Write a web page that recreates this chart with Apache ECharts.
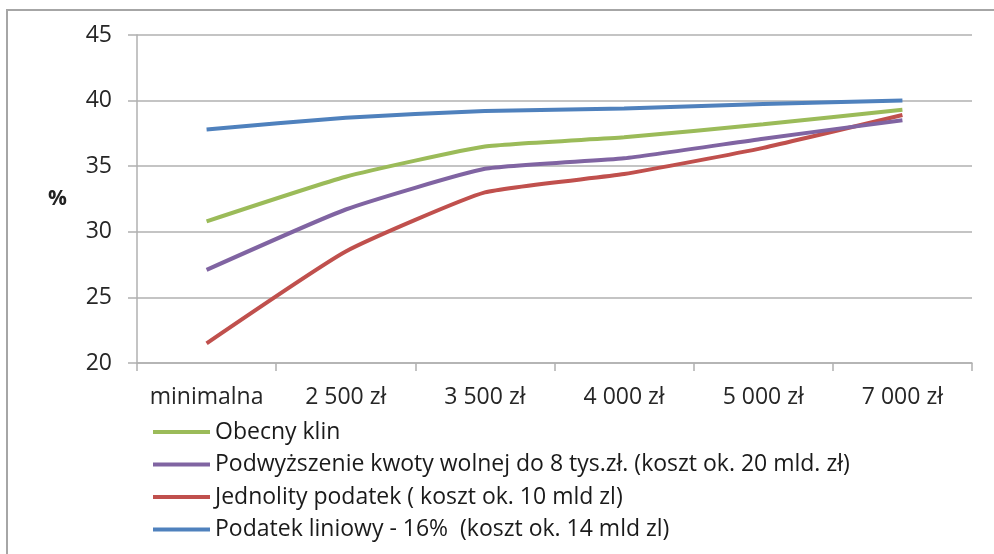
<!DOCTYPE html>
<html>
<head>
<meta charset="utf-8">
<script src="https://cdn.jsdelivr.net/npm/echarts@6/dist/echarts.min.js"></script>
<style>
html,body{margin:0;padding:0;background:#fff;}
#chart{width:994px;height:554px;}
</style>
</head>
<body>
<div id="chart"></div>
<script>
var categories = ['minimalna', '2 500 zł', '3 500 zł', '4 000 zł', '5 000 zł', '7 000 zł'];
var yTicks = [20, 25, 30, 35, 40, 45];
var obecnyKlin = [30.8, 34.2, 36.5, 37.2, 38.2, 39.3];
var kwotaWolna = [27.1, 31.7, 34.8, 35.6, 37.1, 38.5];
var jednolity = [21.5, 28.5, 33.0, 34.4, 36.4, 38.9];
var liniowy = [37.8, 38.7, 39.2, 39.4, 39.75, 40.0];
var seriesNames = [
  'Obecny klin',
  'Podwyższenie kwoty wolnej do 8 tys.zł. (koszt ok. 20 mld. zł)',
  'Jednolity podatek ( koszt ok. 10 mld zl)',
  'Podatek liniowy - 16%  (koszt ok. 14 mld zl)'
];
var colors = ['#9bbb59', '#8064a2', '#c0504d', '#4f81bd'];
var seriesData = [obecnyKlin, kwotaWolna, jednolity, liniowy];

var font = '"Open Sans", "Noto Sans", sans-serif';
var chart = echarts.init(document.getElementById('chart'), null, {renderer: 'canvas'});
chart.setOption({
  animation: false,
  backgroundColor: '#fff',
  textStyle: {fontFamily: font},
  grid: {left: 137, right: 22, top: 35, bottom: 191, containLabel: false},
  graphic: [{
    type: 'polyline',
    shape: {points: [[7, 554], [7, 10], [994, 10]]},
    style: {stroke: '#a6a6a6', lineWidth: 2, fill: null}
  }],
  xAxis: {
    type: 'category',
    data: categories,
    boundaryGap: true,
    axisLine: {lineStyle: {color: '#b0b0b0', width: 1.5}},
    axisTick: {show: true, interval: 0, length: 8, alignWithLabel: false, lineStyle: {color: '#b0b0b0', width: 1.5}},
    axisLabel: {interval: 0, hideOverlap: false, margin: 23, fontSize: 23, color: '#262626', fontFamily: font},
    splitLine: {show: false}
  },
  yAxis: {
    type: 'value',
    min: yTicks[0],
    max: yTicks[yTicks.length - 1],
    interval: 5,
    name: '%',
    nameLocation: 'middle',
    nameRotate: 0,
    nameGap: 70,
    nameTextStyle: {fontSize: 21, fontWeight: 'bold', color: '#222', fontFamily: font, padding: [8, 0, 0, 0]},
    axisLine: {show: true, lineStyle: {color: '#b0b0b0', width: 1.5}},
    axisTick: {show: true, length: 9, lineStyle: {color: '#b0b0b0', width: 1.5}},
    axisLabel: {margin: 25, fontSize: 23, color: '#262626', fontFamily: font},
    splitLine: {show: true, lineStyle: {color: '#b0b0b0', width: 1.5}}
  },
  legend: {
    orient: 'vertical',
    left: 148,
    top: 415,
    icon: 'rect',
    itemWidth: 57,
    itemHeight: 4,
    itemGap: 8.5,
    data: seriesNames,
    textStyle: {fontSize: 23, color: '#1a1a1a', fontFamily: font, lineHeight: 24}
  },
  series: seriesNames.map(function (n, i) {
    return {
      name: n,
      type: 'line',
      data: seriesData[i],
      color: colors[i],
      symbol: 'none',
      smooth: 0.15,
      lineStyle: {width: 4, color: colors[i]},
      z: 10 - i
    };
  })
});
</script>
</body>
</html>
